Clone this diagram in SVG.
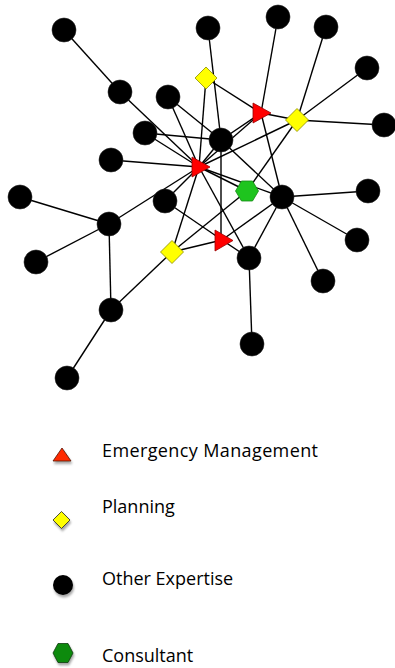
<svg xmlns="http://www.w3.org/2000/svg" width="395" height="668" viewBox="0 0 395 668">
  <style>
    .edge { stroke: #000; stroke-width: 1.4; fill: none; }
    .other { fill: #000; stroke: #222; stroke-width: 0.6; }
    .em { fill: #ff0000; stroke: #990000; stroke-width: 0.8; }
    .plan { fill: #ffff00; stroke: #8a8a00; stroke-width: 0.8; }
    .cons { fill: #1ec41e; stroke: #158a15; stroke-width: 0.8; }
    .lbl { font-family: "Open Sans", "Liberation Sans", sans-serif; font-size: 18px; fill: #000; }
  </style>
  <defs>
    <filter id="shadow" x="-40%" y="-40%" width="180%" height="180%">
      <feDropShadow dx="1" dy="2.5" stdDeviation="1.3" flood-color="#000" flood-opacity="0.35"/>
    </filter>
  </defs>
  <rect width="395" height="668" fill="#fff"/>

  <!-- connectors -->
  <g id="edges" class="edge">
    <line x1="64" y1="30" x2="120" y2="92"/>
    <line x1="120" y1="92" x2="199" y2="167"/>
    <line x1="168" y1="97" x2="199" y2="167"/>
    <line x1="168" y1="97" x2="221" y2="140"/>
    <line x1="145" y1="133" x2="221" y2="140"/>
    <line x1="145" y1="133" x2="199" y2="167"/>
    <line x1="111" y1="160" x2="199" y2="167"/>
    <line x1="20" y1="197" x2="109" y2="224"/>
    <line x1="36" y1="262" x2="109" y2="224"/>
    <line x1="109" y1="224" x2="111" y2="310"/>
    <line x1="111" y1="310" x2="67" y2="378"/>
    <line x1="109" y1="224" x2="199" y2="167"/>
    <line x1="111" y1="310" x2="172" y2="252"/>
    <line x1="165" y1="201" x2="199" y2="167"/>
    <line x1="165" y1="201" x2="222" y2="240"/>
    <line x1="172" y1="252" x2="199" y2="167"/>
    <line x1="172" y1="252" x2="247" y2="191"/>
    <line x1="172" y1="252" x2="222" y2="240"/>
    <line x1="208" y1="28" x2="221" y2="140"/>
    <line x1="278" y1="17" x2="261" y2="113"/>
    <line x1="326" y1="27" x2="297" y2="120"/>
    <line x1="367" y1="68" x2="297" y2="120"/>
    <line x1="384" y1="125" x2="297" y2="120"/>
    <line x1="206" y1="78" x2="261" y2="113"/>
    <line x1="206" y1="78" x2="199" y2="167"/>
    <line x1="261" y1="113" x2="297" y2="120"/>
    <line x1="261" y1="113" x2="221" y2="140"/>
    <line x1="261" y1="113" x2="199" y2="167"/>
    <line x1="261" y1="113" x2="282" y2="197"/>
    <line x1="297" y1="120" x2="247" y2="191"/>
    <line x1="297" y1="120" x2="199" y2="167"/>
    <line x1="221" y1="140" x2="282" y2="197"/>
    <line x1="221" y1="140" x2="221" y2="240"/>
    <line x1="221" y1="140" x2="199" y2="167"/>
    <line x1="199" y1="167" x2="247" y2="191"/>
    <line x1="199" y1="167" x2="282" y2="197"/>
    <line x1="199" y1="167" x2="249" y2="258"/>
    <line x1="282" y1="197" x2="249" y2="258"/>
    <line x1="282" y1="197" x2="222" y2="240"/>
    <line x1="222" y1="240" x2="249" y2="258"/>
    <line x1="282" y1="197" x2="368" y2="191"/>
    <line x1="282" y1="197" x2="357" y2="240"/>
    <line x1="282" y1="197" x2="323" y2="281"/>
    <line x1="249" y1="258" x2="252" y2="344"/>
  </g>

  <!-- other expertise -->
  <g id="n-a"><circle class="other" cx="64" cy="30" r="12"/></g>
  <g id="n-b"><circle class="other" cx="120" cy="92" r="12"/></g>
  <g id="n-c"><circle class="other" cx="168" cy="97" r="12"/></g>
  <g id="n-d"><circle class="other" cx="145" cy="133" r="12"/></g>
  <g id="n-e"><circle class="other" cx="111" cy="160" r="12"/></g>
  <g id="n-f"><circle class="other" cx="20" cy="197" r="12"/></g>
  <g id="n-g"><circle class="other" cx="109" cy="224" r="12"/></g>
  <g id="n-h"><circle class="other" cx="36" cy="262" r="12"/></g>
  <g id="n-i"><circle class="other" cx="111" cy="310" r="12"/></g>
  <g id="n-j"><circle class="other" cx="67" cy="378" r="12"/></g>
  <g id="n-k"><circle class="other" cx="165" cy="201" r="12"/></g>
  <g id="n-l"><circle class="other" cx="208" cy="28" r="12"/></g>
  <g id="n-m"><circle class="other" cx="278" cy="17" r="12"/></g>
  <g id="n-n"><circle class="other" cx="326" cy="27" r="12"/></g>
  <g id="n-o"><circle class="other" cx="367" cy="68" r="12"/></g>
  <g id="n-p"><circle class="other" cx="384" cy="125" r="12"/></g>
  <g id="n-q"><circle class="other" cx="221" cy="140" r="12"/></g>
  <g id="n-r"><circle class="other" cx="282" cy="197" r="12"/></g>
  <g id="n-s"><circle class="other" cx="368" cy="191" r="12"/></g>
  <g id="n-t"><circle class="other" cx="357" cy="240" r="12"/></g>
  <g id="n-u"><circle class="other" cx="323" cy="281" r="12"/></g>
  <g id="n-v"><circle class="other" cx="249" cy="258" r="12"/></g>
  <g id="n-w"><circle class="other" cx="252" cy="344" r="12"/></g>

  <!-- planning -->
  <g id="p-1"><polygon class="plan" points="206,67 217,78 206,89 195,78"/></g>
  <g id="p-2"><polygon class="plan" points="297,108.5 308.5,120 297,131.5 285.5,120"/></g>
  <g id="p-3"><polygon class="plan" points="172,240.5 183.5,252 172,263.5 160.5,252"/></g>

  <!-- emergency management -->
  <g id="e-1"><polygon class="em" points="253,103 271,113 253,123"/></g>
  <g id="e-2"><polygon class="em" points="192,157 210,167 192,177"/></g>
  <g id="e-3"><polygon class="em" points="215,230 233,240.5 215,251"/></g>

  <!-- consultant -->
  <g id="c-1"><polygon class="cons" points="235.5,191 241.5,181 252.5,181 258.5,191 252.5,201 241.5,201"/></g>

  <!-- legend -->
  <g id="legend">
    <g id="legend-em">
      <polygon points="53,461 71,461 62,448" fill="#ff2a00" stroke="#551100" stroke-width="0.8" filter="url(#shadow)"/>
      <text class="lbl" x="102" y="457" textLength="216">Emergency Management</text>
    </g>
    <g id="legend-plan">
      <polygon points="61.5,511.5 70,520 61.5,528.5 53,520" fill="#ffff00" stroke="#222" stroke-width="0.8" filter="url(#shadow)"/>
      <text class="lbl" x="102" y="513">Planning</text>
    </g>
    <g id="legend-other">
      <circle cx="63" cy="585" r="10" fill="#000" filter="url(#shadow)"/>
      <text class="lbl" x="102" y="585">Other Expertise</text>
    </g>
    <g id="legend-cons">
      <polygon points="53,653 58,643.5 68,643.5 73,653 68,662.5 58,662.5" fill="#0e8a10" stroke="#0a3a0a" stroke-width="0.8" filter="url(#shadow)"/>
      <text class="lbl" x="102" y="662">Consultant</text>
    </g>
  </g>
</svg>
